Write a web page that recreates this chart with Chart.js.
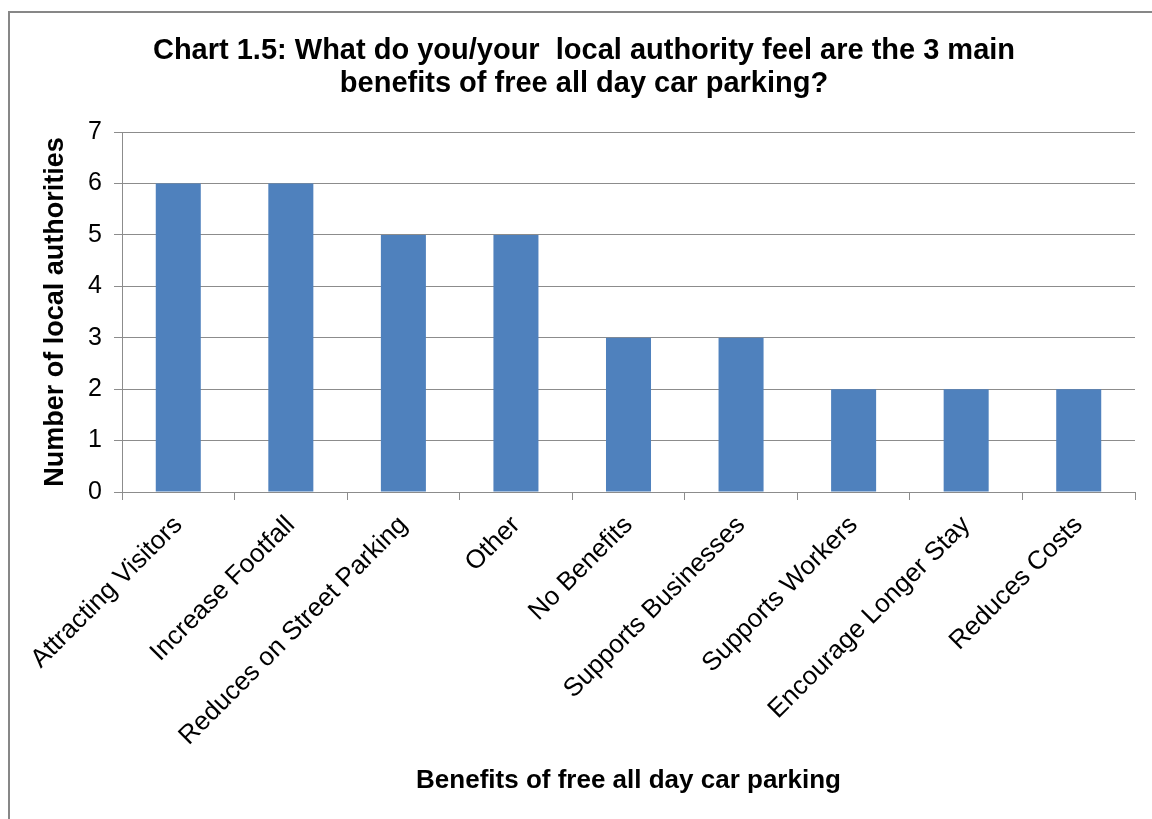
<!DOCTYPE html>
<html>
<head>
<meta charset="utf-8">
<title>Chart 1.5</title>
<script src="https://cdn.jsdelivr.net/npm/chart.js@4.4.1/dist/chart.umd.min.js"></script>
<style>
  html, body { margin: 0; padding: 0; background: #fff; overflow: hidden; }
  #wrap { position: relative; width: 1152px; height: 819px; }
</style>
</head>
<body>
<div id="wrap"><canvas id="benefits"></canvas></div>
<script>
// survey answers: number of local authorities giving each benefit
const categories = [
  'Attracting Visitors', 'Increase Footfall', 'Reduces on Street Parking', 'Other',
  'No Benefits', 'Supports Businesses', 'Supports Workers', 'Encourage Longer Stay', 'Reduces Costs'
];
const authorityCounts = [6, 6, 5, 5, 3, 3, 2, 2, 2];
const yMin = 0;
const yMax = 7;
const yStep = 1;

const titleLines = [
  'Chart 1.5: What do you/your  local authority feel are the 3 main',
  'benefits of free all day car parking?'
];

const FONT = '"Liberation Sans", Arial, sans-serif';
const GRID = '#8C8C8C';

// grey frame round the whole chart, plus white fill
const framePlugin = {
  id: 'frame',
  beforeDraw(chart) {
    const ctx = chart.ctx;
    ctx.save();
    ctx.fillStyle = '#fff';
    ctx.fillRect(0, 0, chart.width, chart.height);
    ctx.strokeStyle = '#878787';
    ctx.lineWidth = 2;
    ctx.strokeRect(9, 12, chart.width + 20, chart.height + 20);
    ctx.restore();
  }
};

Chart.defaults.font.family = FONT;
Chart.defaults.color = '#000';

new Chart(document.getElementById('benefits'), {
  type: 'bar',
  data: {
    labels: categories,
    datasets: [{
      label: 'Number of local authorities',
      data: authorityCounts,
      backgroundColor: '#4F81BD',
      borderWidth: 0,
      categoryPercentage: 1.0,
      barPercentage: 0.4
    }]
  },
  options: {
    responsive: true,
    maintainAspectRatio: false,
    animation: false,
    layout: { padding: { left: 33, right: 17, top: 0, bottom: 0 } },
    plugins: {
      legend: { display: false },
      tooltip: { enabled: false },
      title: {
        display: true,
        text: titleLines,
        color: '#000',
        font: { size: 29, weight: 'bold', lineHeight: 1.14 },
        padding: { top: 34, bottom: 32 }
      }
    },
    scales: {
      x: {
        afterFit(scale) { scale.height = 327; },
        grid: {
          offset: true,
          drawOnChartArea: false,
          drawTicks: true,
          tickLength: 8,
          color: GRID
        },
        border: { color: GRID, width: 1 },
        ticks: {
          autoSkip: false,
          maxRotation: 45,
          minRotation: 45,
          padding: 10,
          font: { size: 26 },
          color: '#000'
        },
        title: {
          display: true,
          text: 'Benefits of free all day car parking',
          font: { size: 26, weight: 'bold' },
          padding: { top: 0, bottom: 23 }
        }
      },
      y: {
        min: yMin,
        max: yMax,
        afterFit(scale) { scale.width = 89; },
        grid: {
          color: GRID,
          tickLength: 8,
          drawTicks: true
        },
        border: { color: GRID, width: 1 },
        ticks: {
          stepSize: yStep,
          padding: 12,
          font: { size: 25 },
          color: '#000'
        },
        title: {
          display: true,
          text: 'Number of local authorities',
          font: { size: 27, weight: 'bold' },
          padding: { top: 6, bottom: 0 }
        }
      }
    }
  },
  plugins: [framePlugin]
});
</script>
</body>
</html>
